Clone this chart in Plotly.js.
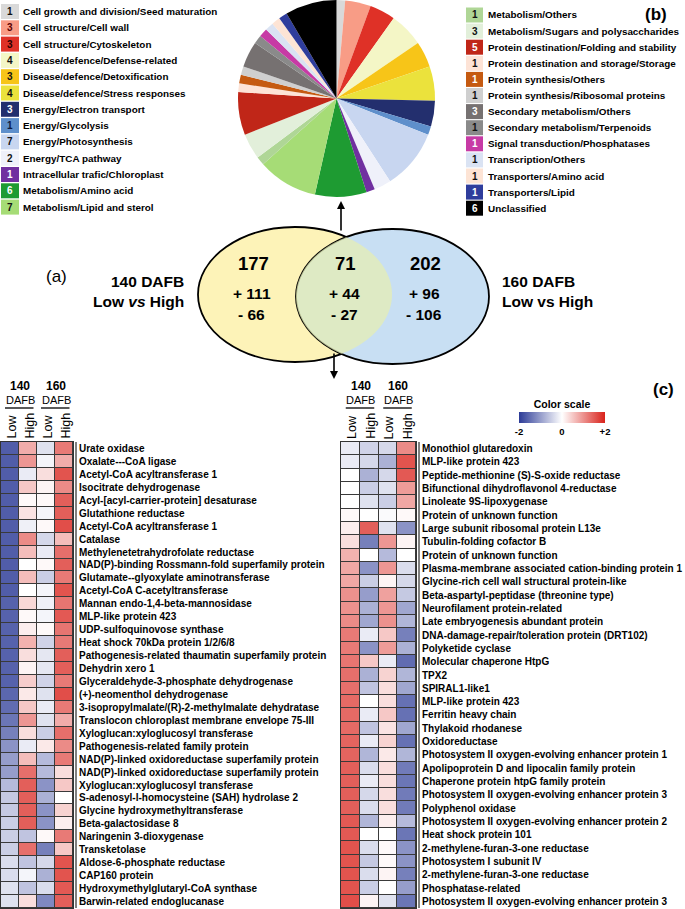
<!DOCTYPE html>
<html><head><meta charset="utf-8">
<script src="https://cdn.plot.ly/plotly-3.0.1.min.js"></script>
<style>html,body{margin:0;padding:0;background:#fff}#chart{width:685px;height:909px}</style>
</head><body><div id="chart"></div>
<script>
// ---------- DATA ----------
const pieCategories = [
  'Cell growth and division/Seed maturation','Cell structure/Cell wall','Cell structure/Cytoskeleton',
  'Disease/defence/Defense-related','Disease/defence/Detoxification','Disease/defence/Stress responses',
  'Energy/Electron transport','Energy/Glycolysis','Energy/Photosynthesis','Energy/TCA pathway',
  'Intracellular trafic/Chloroplast','Metabolism/Amino acid','Metabolism/Lipid and sterol',
  'Metabolism/Others','Metabolism/Sugars and polysaccharides','Protein destination/Folding and stability',
  'Protein destination and storage/Storage','Protein synthesis/Others','Protein synthesis/Ribosomal proteins',
  'Secondary metabolism/Others','Secondary metabolism/Terpenoids','Signal transduction/Phosphatases',
  'Transcription/Others','Transporters/Amino acid','Transporters/Lipid','Unclassified'
];
const pieCounts = [1,3,3,4,3,4,3,1,7,2,1,6,7, 1,3,5,1,1,1,3,1,1,1,1,1,6];
const pieColors = ['#d9d9d9','#f89c86','#df3127','#f4f6c6','#f7c518','#ebe23c','#232f6e','#5e8fcb','#c8d6f0','#eff1fa','#7030a0','#1e9b32','#a6dc76',
  '#afd696','#e2efda','#c02618','#fde3d6','#c55a11','#cfcfcf','#767171','#8a8a8a','#c73aa5','#dae3f3','#fde4d5','#2f3d9c','#000000'];
const numberColors = ['#111','#5a0000','#2a0000','#111','#111','#111','#fff','#0c1a40','#111','#111','#fff','#fff','#111',
  '#111','#111','#fff','#111','#fff','#111','#fff','#111','#fff','#111','#111','#fff','#fff'];

const vennTotals = [177, 71, 202];
const vennUp = [111, 44, 96];
const vennDown = [66, 27, 106];

const columnLabels = ['Low','High','Low','High'];
const groupLabels = ['140','160'];

const heatLeftRows = [
  'Urate oxidase','Oxalate---CoA ligase','Acetyl-CoA acyltransferase 1','Isocitrate dehydrogenase',
  'Acyl-[acyl-carrier-protein] desaturase','Glutathione reductase','Acetyl-CoA acyltransferase 1','Catalase',
  'Methylenetetrahydrofolate reductase','NAD(P)-binding Rossmann-fold superfamily protein','Glutamate--glyoxylate aminotransferase',
  'Acetyl-CoA C-acetyltransferase','Mannan endo-1,4-beta-mannosidase','MLP-like protein 423','UDP-sulfoquinovose synthase',
  'Heat shock 70kDa protein 1/2/6/8','Pathogenesis-related thaumatin superfamily protein','Dehydrin xero 1',
  'Glyceraldehyde-3-phosphate dehydrogenase','(+)-neomenthol dehydrogenase','3-isopropylmalate/(R)-2-methylmalate dehydratase',
  'Translocon chloroplast membrane envelope 75-III','Xyloglucan:xyloglucosyl transferase','Pathogenesis-related family protein',
  'NAD(P)-linked oxidoreductase superfamily protein','NAD(P)-linked oxidoreductase superfamily protein','Xyloglucan:xyloglucosyl transferase',
  'S-adenosyl-l-homocysteine (SAH) hydrolase 2','Glycine hydroxymethyltransferase','Beta-galactosidase 8','Naringenin 3-dioxygenase',
  'Transketolase','Aldose-6-phosphate reductase','CAP160 protein','Hydroxymethylglutaryl-CoA synthase','Barwin-related endoglucanase'
];
const heatLeftValues = [
  [-1.65,0.75,-0.3,1.2],[-1.65,0.95,-0.1,0.75],[-1.65,-0.2,0.3,1.55],[-1.65,0.5,0.1,1.05],
  [-1.65,0.05,0.05,1.45],[-1.65,0.25,-0.1,1.45],[-1.65,-0.15,0.05,1.6],[-1.65,1.05,-0.4,0.6],
  [-1.65,0.6,-0.2,1.3],[-1.65,0.0,0.05,1.45],[-1.65,0.6,-0.5,1.2],[-1.65,0.0,-0.1,1.55],
  [-1.6,0.35,-0.15,1.25],[-1.6,0.05,-0.1,1.5],[-1.6,0.15,0.05,1.25],[-1.6,0.7,-0.45,1.2],
  [-1.6,0.3,-0.25,1.45],[-1.6,0.1,-0.25,1.45],[-1.6,0.45,-0.45,1.2],[-1.55,0.2,-0.3,1.6],
  [-1.5,0.5,-0.2,1.2],[-1.4,0.95,-0.3,0.75],[-1.3,0.3,-0.5,1.3],[-1.1,-0.2,0.2,1.05],
  [-1.0,0.6,-0.7,1.2],[-1.0,1.3,-0.7,0.3],[-0.7,1.45,-1.1,0.5],[-0.55,1.45,-0.8,0.0],
  [-0.55,1.45,-1.1,0.4],[-0.5,1.45,-1.1,0.15],[-0.5,-0.6,0.05,1.2],[-0.5,1.3,-1.3,0.5],
  [-0.35,-0.6,-0.4,1.55],[-0.35,-0.1,-0.8,1.55],[-0.3,-0.6,-0.35,1.5],[-0.3,0.3,-1.2,1.45]
];
const heatRightRows = [
  'Monothiol glutaredoxin','MLP-like protein 423','Peptide-methionine (S)-S-oxide reductase','Bifunctional dihydroflavonol 4-reductase',
  'Linoleate 9S-lipoxygenase','Protein of unknown function','Large subunit ribosomal protein L13e','Tubulin-folding cofactor B',
  'Protein of unknown function','Plasma-membrane associated cation-binding protein 1','Glycine-rich cell wall structural protein-like',
  'Beta-aspartyl-peptidase (threonine type)','Neurofilament protein-related','Late embryogenesis abundant protein',
  'DNA-damage-repair/toleration protein (DRT102)','Polyketide cyclase','Molecular chaperone HtpG','TPX2','SPIRAL1-like1',
  'MLP-like protein 423','Ferritin heavy chain','Thylakoid rhodanese','Oxidoreductase','Photosystem II oxygen-evolving enhancer protein 1',
  'Apolipoprotein D and lipocalin family protein','Chaperone protein htpG family protein','Photosystem II oxygen-evolving enhancer protein 3',
  'Polyphenol oxidase','Photosystem II oxygen-evolving enhancer protein 2','Heat shock protein 101','2-methylene-furan-3-one reductase',
  'Photosystem I subunit IV','2-methylene-furan-3-one reductase','Phosphatase-related','Photosystem II oxygen-evolving enhancer protein 3'
];
const heatRightValues = [
  [-0.2,-0.45,-0.4,1.05],[-0.2,-0.4,-0.8,1.55],[0.0,-0.8,-0.4,1.5],[0.0,-0.5,-0.3,0.9],
  [0.0,-0.3,-0.5,0.8],[0.05,0.0,-0.05,0.05],[0.15,1.45,-0.3,-1.1],[0.3,-1.3,0.95,0.1],
  [0.7,0.0,-0.7,0.0],[0.8,-1.1,0.95,-0.35],[0.8,-0.5,0.1,-0.4],[1.0,-1.0,0.85,-0.55],
  [1.0,-0.8,0.95,-0.9],[1.05,-0.9,1.0,-0.75],[1.2,-0.2,0.5,-1.3],[1.2,-1.1,0.9,-0.8],
  [1.25,0.5,-0.2,-1.5],[1.3,-0.8,0.4,-0.75],[1.3,-0.6,0.3,-0.9],[1.35,0.0,0.3,-1.45],
  [1.35,-0.2,0.5,-1.45],[1.35,-0.6,0.25,-0.9],[1.4,-0.2,0.4,-1.45],[1.4,-0.75,0.2,-0.75],
  [1.45,-0.35,0.3,-1.35],[1.45,-0.2,0.3,-1.4],[1.45,-0.4,0.3,-1.35],[1.45,-0.35,0.3,-1.35],
  [1.5,-0.75,0.15,-0.7],[1.5,0.0,0.0,-1.4],[1.55,-0.35,0.05,-1.1],[1.55,-0.55,0.05,-1.1],
  [1.55,-0.35,0.1,-1.3],[1.55,-0.5,0.0,-1.0],[1.6,0.1,-0.3,-1.4]
];

// ---------- LAYOUT HELPERS ----------
const W = 685, H = 909;
const px = x => x / W;
const py = y => 1 - y / H;
const FONT = 'Liberation Sans, Arial, sans-serif';
const shapes = [];
const annotations = [];
function txt(text, x, y, size, opts) {
  annotations.push(Object.assign({
    text: text, xref: 'paper', yref: 'paper', x: px(x), y: py(y), showarrow: false,
    xanchor: 'center', yanchor: 'middle', borderpad: 0,
    font: {family: FONT, size: size, color: '#000', weight: 'bold'}
  }, opts || {}));
}

// ---------- LEGENDS (pie categories) ----------
const leftN = 13;
pieCategories.forEach((cat, i) => {
  const isLeft = i < leftN;
  const k = isLeft ? i : i - leftN;
  const cy = isLeft ? 11.5 + k * 16.3 : 15 + k * 16.1;
  const bx0 = isLeft ? 1 : 466, bx1 = isLeft ? 19 : 483;
  const tx = isLeft ? 22 : 487;
  shapes.push({type: 'rect', xref: 'paper', yref: 'paper', x0: px(bx0), x1: px(bx1), y0: py(cy + 7.5), y1: py(cy - 7.5),
    fillcolor: pieColors[i], line: {width: 0}});
  txt(String(pieCounts[i]), (bx0 + bx1) / 2, cy, 10, {font: {family: FONT, size: 10, color: numberColors[i], weight: 'bold'}});
  txt(cat, tx, cy, 9.9, {xanchor: 'left'});
});
txt('(b)', 656, 14, 17);

// ---------- VENN ----------
const ellY = {cx: 295, cy: 294.5, rx: 97, ry: 67.5};
const ellB = {cx: 392.5, cy: 296.5, rx: 96.5, ry: 67.5};
function ellShape(e, fill) {
  return {type: 'circle', xref: 'paper', yref: 'paper', x0: px(e.cx - e.rx), x1: px(e.cx + e.rx),
    y0: py(e.cy + e.ry), y1: py(e.cy - e.ry), fillcolor: fill, line: {color: '#000', width: 1.8}};
}
shapes.push(ellShape(ellY, '#fdf3b8'));
shapes.push(ellShape(ellB, '#c8dff3'));
const inside = (e, x, y) => ((x - e.cx) / e.rx) ** 2 + ((y - e.cy) / e.ry) ** 2 <= 1;
const lens = [];
for (let j = 0; j <= 400; j++) {
  const t = -Math.PI / 2 + Math.PI * j / 400;
  const x = ellY.cx + ellY.rx * Math.cos(t), y = ellY.cy + ellY.ry * Math.sin(t);
  if (inside(ellB, x, y)) lens.push([x, y]);
}
for (let j = 0; j <= 400; j++) {
  const t = Math.PI / 2 + Math.PI * j / 400;
  const x = ellB.cx + ellB.rx * Math.cos(t), y = ellB.cy + ellB.ry * Math.sin(t);
  if (inside(ellY, x, y)) lens.push([x, y]);
}
shapes.push({type: 'path', xref: 'paper', yref: 'paper',
  path: 'M' + lens.map(p => px(p[0]).toFixed(5) + ',' + py(p[1]).toFixed(5)).join('L') + 'Z',
  fillcolor: '#e6edb4', opacity: 0.75, line: {width: 0}});

const vennX = [253, 345, 425];
vennTotals.forEach((v, i) => {
  txt(String(v), vennX[i], 264, 18.5);
  txt('+ ' + vennUp[i], vennX[i] - 1, 294, 15.5);
  txt('- ' + vennDown[i], vennX[i] - 1, 314, 15.5);
});
txt('(a)', 56, 276, 17, {font: {family: FONT, size: 17, color: '#000'}});
txt('140 DAFB', 185, 281, 15.5, {xanchor: 'right'});
txt('Low <i>vs</i> High', 185, 301, 15.5, {xanchor: 'right'});
txt('160 DAFB', 501, 281, 15.5, {xanchor: 'left'});
txt('Low vs High', 501, 301, 15.5, {xanchor: 'left'});
// arrows
annotations.push({text: '', xref: 'paper', yref: 'paper', x: px(341), y: py(201), ax: 0, ay: 31,
  showarrow: true, arrowhead: 2, arrowsize: 1, arrowwidth: 1.6, arrowcolor: '#000', standoff: 0});
annotations.push({text: '', xref: 'paper', yref: 'paper', x: px(334), y: py(379), ax: 0, ay: -27,
  showarrow: true, arrowhead: 2, arrowsize: 1, arrowwidth: 1.6, arrowcolor: '#000', standoff: 0});

// ---------- HEATMAPS ----------
const heatTop = 442, heatBot = 908;
const panels = [
  {x0: 1, x1: 73, xa: 'x', ya: 'y', rows: heatLeftRows, vals: heatLeftValues, lineX: 76, labelX: 78},
  {x0: 341, x1: 416, xa: 'x2', ya: 'y2', rows: heatRightRows, vals: heatRightValues, lineX: 419, labelX: 421}
];
const colorscale = [[0, '#2c3b97'], [0.5, '#ffffff'], [1, '#d9221b']];
const traces = [];
traces.push({type: 'pie', values: pieCounts, labels: pieCategories, sort: false, direction: 'clockwise', rotation: 0,
  marker: {colors: pieColors, line: {width: 0}}, textinfo: 'none', hoverinfo: 'label+value', showlegend: false,
  domain: {x: [px(237), px(436)], y: [py(197), 1]}});

const layout = {
  width: W, height: H, margin: {l: 0, r: 0, t: 0, b: 0}, paper_bgcolor: '#fff', plot_bgcolor: '#3a3a3a',
  showlegend: false, font: {family: FONT}
};
panels.forEach((p, idx) => {
  const n = p.rows.length;
  const tr = {type: 'heatmap', z: p.vals, x: [0, 1, 2, 3], y: p.rows.map((_, i) => i), xaxis: p.xa, yaxis: p.ya,
    colorscale: colorscale, zmin: -2, zmax: 2, xgap: 1, ygap: 1, hoverinfo: 'z', showscale: idx === 0};
  if (idx === 0) {
    tr.colorbar = {orientation: 'h', x: px(562), xanchor: 'center', y: py(417), yanchor: 'middle',
      lenmode: 'pixels', len: 86, thicknessmode: 'pixels', thickness: 11, outlinewidth: 0, xpad: 0, ypad: 0,
      tickvals: [-2, 0, 2], ticktext: ['-2', '0', '+2'], ticks: '',
      tickfont: {family: FONT, size: 9.5, color: '#000', weight: 'bold'},
      title: {text: 'Color scale', side: 'top', font: {family: FONT, size: 10.5, color: '#000', weight: 'bold'}}};
  }
  traces.push(tr);
  const xk = idx === 0 ? 'xaxis' : 'xaxis2', yk = idx === 0 ? 'yaxis' : 'yaxis2';
  layout[xk] = {domain: [px(p.x0), px(p.x1)], range: [-0.5, 3.5], anchor: p.ya, showticklabels: false, ticks: '',
    showgrid: false, zeroline: false, showline: true, mirror: true, linecolor: '#333', linewidth: 1, fixedrange: true};
  layout[yk] = {domain: [py(heatBot), py(heatTop)], range: [n - 0.5, -0.5], anchor: p.xa, showticklabels: false, ticks: '',
    showgrid: false, zeroline: false, showline: true, mirror: true, linecolor: '#333', linewidth: 1, fixedrange: true};
  // separator line
  shapes.push({type: 'line', xref: 'paper', yref: 'paper', x0: px(p.lineX), x1: px(p.lineX), y0: py(heatTop), y1: py(heatBot),
    line: {color: '#000', width: 1}});
  // row labels
  p.rows.forEach((r, i) => {
    annotations.push({text: r, xref: 'paper', yref: p.ya, x: px(p.labelX), y: i, xanchor: 'left', yanchor: 'middle',
      showarrow: false, borderpad: 0, font: {family: FONT, size: 10, color: '#000', weight: 'bold'}});
  });
  // headers
  const cw = (p.x1 - p.x0) / 4;
  groupLabels.forEach((g, gi) => {
    const gx = p.x0 + cw * (2 * gi + 1);
    txt(g, gx + 1, 386, 12);
    txt('DAFB', gx + 1, 400, 11, {font: {family: FONT, size: 11, color: '#000'}});
    shapes.push({type: 'line', xref: 'paper', yref: 'paper', x0: px(gx - 14), x1: px(gx + 14.5), y0: py(408), y1: py(408),
      line: {color: '#000', width: 1.3}});
  });
  columnLabels.forEach((c, ci) => {
    txt(c, p.x0 + cw * (ci + 0.5) + 1.5, 440, 12.5, {yanchor: 'bottom', textangle: -90,
      font: {family: FONT, size: 12.5, color: '#000'}});
  });
});
txt('(c)', 663, 389, 17);

layout.shapes = shapes;
layout.annotations = annotations;
Plotly.newPlot('chart', traces, layout, {displayModeBar: false, staticPlot: true});
</script>
</body></html>
